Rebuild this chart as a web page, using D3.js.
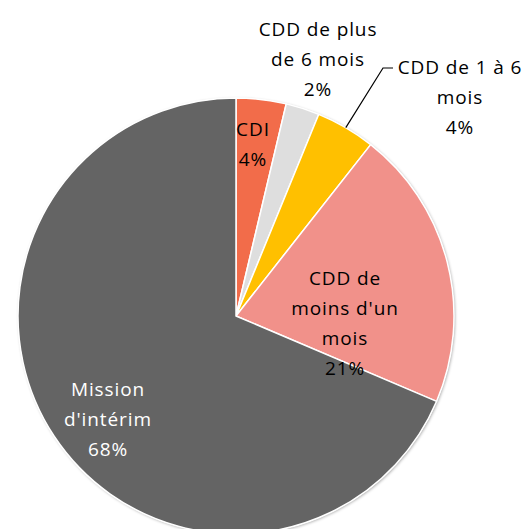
<!DOCTYPE html>
<html>
<head>
<meta charset="utf-8">
<script src="https://cdn.jsdelivr.net/npm/d3@7"></script>
<style>
  body { margin: 0; background: #fff; }
  text { font-family: "Open Sans", Lato, sans-serif; font-size: 19px; letter-spacing: 0.9px; }
</style>
</head>
<body>
<div id="chart"></div>
<script>
var categories = ['CDI', 'CDD de plus de 6 mois', 'CDD de 1 à 6 mois', "CDD de moins d'un mois", "Mission d'intérim"];
var shares = [3.7, 2.5, 4.4, 20.8, 68.6];
var pctLabels = ['4%', '2%', '4%', '21%', '68%'];
var labelLines = [
    ['CDI'],
    ['CDD de plus', 'de 6 mois'],
    ['CDD de 1 à 6', 'mois'],
    ['CDD de', "moins d'un", 'mois'],
    ['Mission', "d'intérim"]
];
var colors = ['#f26c4a', '#dedede', '#ffc000', '#f1918a', '#646464'];
var textColors = ['#000', '#000', '#000', '#000', '#fff'];

var width = 528, height = 529;
var cx = 236, cy = 316, radius = 218;
var lineH = 30;

// label block centers, relative to pie center, in pixels
var labelPos = [[17, -172], [82, -257], [224, -219], [109, 7], [-128, 103]];

var svg = d3.select('#chart')
    .append('svg')
    .attr('width', width)
    .attr('height', height);

var defs = svg.append('defs');
var f = defs.append('filter').attr('id', 'shadow')
    .attr('x', '-10%').attr('y', '-10%').attr('width', '120%').attr('height', '120%');
f.append('feDropShadow')
    .attr('dx', 1).attr('dy', 1).attr('stdDeviation', 1.5)
    .attr('flood-color', '#000').attr('flood-opacity', 0.35);

var data = categories.map(function (c, i) {
    return {name: c, value: shares[i], pct: pctLabels[i], lines: labelLines[i], i: i};
});

var pie = d3.pie().sort(null).value(function (d) { return d.value; });
var arc = d3.arc().innerRadius(0).outerRadius(radius);
var arcs = pie(data);

var g = svg.append('g').attr('transform', 'translate(' + cx + ',' + cy + ')');

g.append('circle').attr('r', radius).attr('fill', '#fff').attr('filter', 'url(#shadow)');

g.selectAll('path.slice')
    .data(arcs)
    .enter()
    .append('path')
    .attr('class', 'slice')
    .attr('d', arc)
    .attr('fill', function (d) { return colors[d.data.i]; })
    .attr('stroke', '#fff')
    .attr('stroke-width', 1.5)
    .attr('stroke-linejoin', 'round');

// leader line for the "1 à 6 mois" slice
var lead = arcs[2];
var mid = (lead.startAngle + lead.endAngle) / 2;
var p0 = d3.pointRadial(mid, radius);
var p1 = [labelPos[2][0] - 77, -248];
g.append('polyline')
    .attr('points', [p0, p1, [p1[0] + 10, p1[1]]].map(function (p) { return p.join(','); }).join(' '))
    .attr('fill', 'none')
    .attr('stroke', '#000')
    .attr('stroke-width', 1.2);

arcs.forEach(function (d) {
    var i = d.data.i;
    var lines = d.data.lines.concat([d.data.pct]);
    var pos = labelPos[i];
    var top = pos[1] - (lines.length - 1) * lineH / 2 + 7;
    var t = g.append('text')
        .attr('text-anchor', 'middle')
        .attr('fill', textColors[i]);
    lines.forEach(function (s, k) {
        t.append('tspan')
            .attr('x', pos[0])
            .attr('y', top + k * lineH)
            .text(s);
    });
});
</script>
</body>
</html>
